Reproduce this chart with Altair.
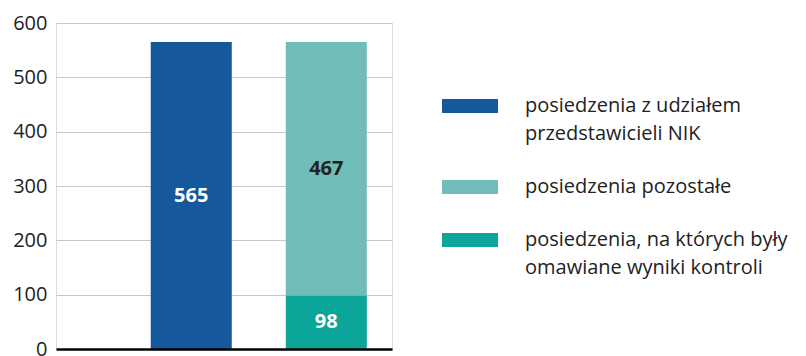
import altair as alt
import pandas as pd

# --- data ---
bars = ["Posiedzenia z udziałem NIK", "Posiedzenia według tematyki"]
series = [
    "posiedzenia z udziałem przedstawicieli NIK",
    "posiedzenia pozostałe",
    "posiedzenia, na których były omawiane wyniki kontroli",
]
series_bar = [bars[0], bars[1], bars[1]]
values = [565, 467, 98]
stack_order = [1, 2, 1]
legend_lines = [
    ["posiedzenia z udziałem", "przedstawicieli NIK"],
    ["posiedzenia pozostałe"],
    ["posiedzenia, na których były", "omawiane wyniki kontroli"],
]
colors = ["#15589b", "#6fbcb8", "#0ba599"]
y_ticks = [0, 100, 200, 300, 400, 500, 600]

df = pd.DataFrame({"bar": series_bar, "series": series, "value": values, "ord": stack_order})

FONT = "Open Sans"

# label expression giving multi-line legend labels
label_expr = ""
for s, lines in zip(series, legend_lines):
    arr = "[" + ",".join("'" + l + "'" for l in lines) + "]"
    label_expr += f"datum.label == '{s}' ? {arr} : "
label_expr += "datum.label"

base = alt.Chart(df).transform_stack(
    stack="value", as_=["y0", "y1"], groupby=["bar"], sort=[alt.SortField("ord")]
).transform_calculate(mid="(datum.y0 + datum.y1) / 2")

x_enc = alt.X(
    "bar:N",
    sort=bars,
    scale=alt.Scale(paddingInner=0.4, paddingOuter=0.444, align=0.79),
    axis=alt.Axis(
        title=None, labels=False, ticks=False, domain=True,
        domainColor="#000000", domainWidth=2.5, zindex=1,
    ),
)

rects = base.mark_bar().encode(
    x=x_enc,
    y=alt.Y(
        "y0:Q",
        scale=alt.Scale(domain=[0, 600], nice=False),
        axis=alt.Axis(
            title=None, values=y_ticks, domain=False, ticks=False,
            grid=True, gridColor="#c8c8c8", gridWidth=1.2,
            labelFont=FONT, labelFontSize=20, labelColor="#222222", labelPadding=9,
        ),
    ),
    y2="y1:Q",
    color=alt.Color(
        "series:N",
        scale=alt.Scale(domain=series, range=colors),
        legend=alt.Legend(
            title=None,
            orient="none",
            legendX=386,
            legendY=45,
            symbolType="M-1,0.107H1V0.607H-1Z",
            symbolSize=3136,
            symbolStrokeWidth=0,
            symbolOpacity=1,
            labelFont=FONT,
            labelFontSize=20,
            labelColor="#222222",
            labelLimit=400,
            labelOffset=27,
            labelBaseline="top",
            labelExpr=label_expr,
            rowPadding=5,
            padding=0,
        ),
    ),
)

texts = base.mark_text(font=FONT, fontSize=20, fontWeight="bold").encode(
    x=alt.X("bar:N", sort=bars),
    y=alt.Y("mid:Q"),
    text=alt.Text("value:Q"),
    color=alt.condition(
        alt.datum.series == series[1], alt.value("#222222"), alt.value("#ffffff")
    ),
)

chart = (
    alt.layer(rects, texts)
    .properties(
        width=336,
        height=326,
        autosize=alt.AutoSizeParams(type="none"),
        padding={"left": 56, "top": 23, "right": 414, "bottom": 7},
    )
    .configure_view(stroke=None)
    .configure(background="#ffffff", style={"guide-label": {"lineHeight": 28}})
)

chart.save("out.html", embed_options={"renderer": "svg", "actions": False})
